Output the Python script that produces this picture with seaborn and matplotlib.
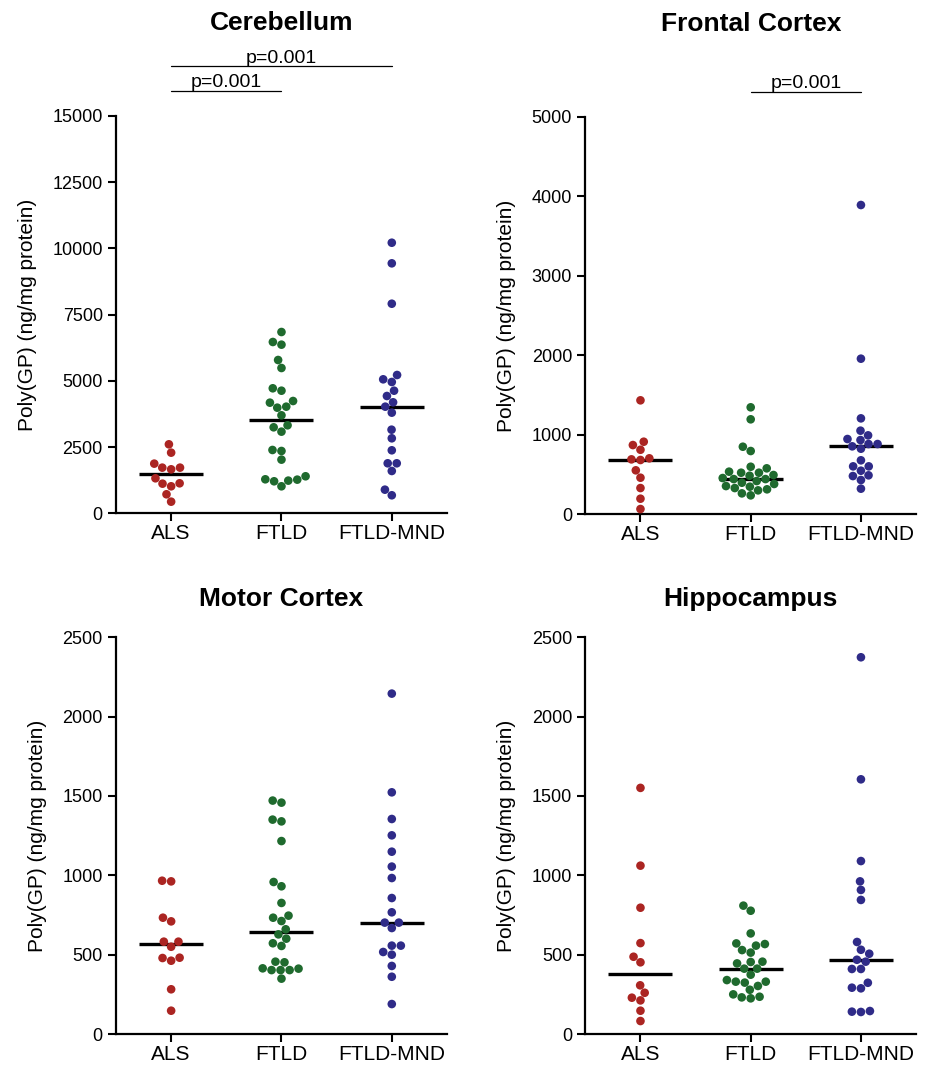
import pandas as pd
import seaborn as sns
import matplotlib.pyplot as plt

groups = ["ALS", "FTLD", "FTLD-MND"]
colors = ["#ab2522", "#1f6a2e", "#2f2b88"]

# Poly(GP) (ng/mg protein)
cerebellum_als = [2604, 2289, 1874, 1723, 1723, 1660, 1321, 1118, 1019, 1132, 717, 438]
cerebellum_ftld = [6844, 6467, 6366, 5787, 5485, 4719, 4628, 4239, 4176, 4025, 3987, 3699,
                   3322, 3246, 3082, 2390, 2352, 2025, 1397, 1283, 1270, 1233, 1208, 1019]
cerebellum_mnd = [10215, 9437, 7912, 5221, 5058, 4957, 4628, 4428, 4190, 4025, 3799, 3156,
                  2831, 2378, 1887, 1887, 1597, 891, 680]

frontal_als = [1431, 910, 868, 809, 701, 688, 680, 550, 457, 327, 193, 63]
frontal_ftld = [1343, 1192, 847, 793, 595, 575, 533, 520, 520, 491, 482, 453,
                440, 440, 415, 394, 378, 352, 344, 327, 311, 298, 260, 235]
frontal_mnd = [3889, 1955, 1204, 1049, 990, 944, 931, 881, 881, 852, 822, 676,
               600, 600, 545, 487, 478, 428, 319]

motor_als = [966, 962, 733, 710, 582, 582, 550, 481, 479, 462, 282, 147]
motor_ftld = [1471, 1458, 1351, 1340, 1216, 958, 931, 826, 746, 733, 712, 660,
              628, 601, 572, 555, 456, 452, 414, 412, 403, 403, 403, 349]
motor_mnd = [2145, 1523, 1355, 1252, 1149, 1055, 983, 857, 767, 702, 702, 668,
             557, 557, 517, 500, 429, 361, 189]

hippo_als = [1551, 1061, 796, 573, 487, 452, 307, 260, 229, 212, 147, 82]
hippo_ftld = [809, 777, 634, 571, 567, 557, 529, 513, 456, 454, 445, 412,
              412, 374, 340, 330, 330, 324, 303, 279, 250, 235, 231, 225]
hippo_mnd = [2374, 1605, 1090, 962, 908, 845, 580, 531, 506, 468, 456, 410,
             410, 323, 292, 288, 145, 141, 139]


def make_frame(als, ftld, mnd):
    return pd.DataFrame({
        "group": ["ALS"] * len(als) + ["FTLD"] * len(ftld) + ["FTLD-MND"] * len(mnd),
        "value": als + ftld + mnd,
    })


def draw_panel(ax, df, title, ymax, step, title_y):
    sns.swarmplot(data=df, x="group", y="value", hue="group", order=groups,
                  hue_order=groups, palette=colors, size=6.2, linewidth=0,
                  legend=False, ax=ax)
    for coll in ax.collections:
        coll.set_clip_on(False)
    # median line
    sns.pointplot(data=df, x="group", y="value", order=groups, estimator="median",
                  errorbar=None, color="black", markers="_", markersize=46,
                  markeredgewidth=2.4, linestyle="none", ax=ax)
    ax.set_xlim(-0.5, 2.5)
    ax.set_ylim(0, ymax)
    ax.set_yticks(range(0, ymax + 1, step))
    ax.set_xlabel("")
    ax.set_ylabel("Poly(GP) (ng/mg protein)", fontsize=15, labelpad=11)
    ax.tick_params(axis="y", labelsize=13, length=6, width=1.5, direction="out")
    ax.tick_params(axis="x", labelsize=15, length=6, width=1.5, direction="out", pad=2)
    for side in ["left", "bottom"]:
        ax.spines[side].set_linewidth(1.6)
        ax.spines[side].set_color("black")
    sns.despine(ax=ax)
    ax.set_title(title, fontsize=19, fontweight="bold", y=title_y, pad=0)


def add_bar(ax, x0, x1, y_line, y_text):
    tr = ax.get_xaxis_transform()
    ax.plot([x0, x1], [y_line, y_line], color="black", lw=0.9, transform=tr, clip_on=False)
    ax.text((x0 + x1) / 2, y_text, "p=0.001", ha="center", va="baseline",
            fontsize=14, transform=tr)


sns.set_theme(style="ticks")
plt.rcParams["font.family"] = ["Liberation Sans", "DejaVu Sans"]
plt.rcParams["text.color"] = "black"
plt.rcParams["axes.labelcolor"] = "black"
plt.rcParams["xtick.color"] = "black"
plt.rcParams["ytick.color"] = "black"

fig = plt.figure(figsize=(9.3, 10.68), dpi=100)
ax1 = fig.add_axes([0.1247, 0.5194, 0.3559, 0.3720])
ax2 = fig.add_axes([0.6294, 0.5187, 0.3556, 0.3720])
ax3 = fig.add_axes([0.1247, 0.0318, 0.3559, 0.3715])
ax4 = fig.add_axes([0.6294, 0.0318, 0.3556, 0.3715])

draw_panel(ax1, make_frame(cerebellum_als, cerebellum_ftld, cerebellum_mnd),
           "Cerebellum", 15000, 2500, 1.2165)
draw_panel(ax2, make_frame(frontal_als, frontal_ftld, frontal_mnd),
           "Frontal Cortex", 5000, 1000, 1.2165)
draw_panel(ax3, make_frame(motor_als, motor_ftld, motor_mnd),
           "Motor Cortex", 2500, 500, 1.079)
draw_panel(ax4, make_frame(hippo_als, hippo_ftld, hippo_mnd),
           "Hippocampus", 2500, 500, 1.079)

add_bar(ax1, 0, 2, 1.126, 1.134)
add_bar(ax1, 0, 1, 1.063, 1.072)
add_bar(ax2, 1, 2, 1.062, 1.072)

fig.savefig("out.png", dpi=100, facecolor="white")
